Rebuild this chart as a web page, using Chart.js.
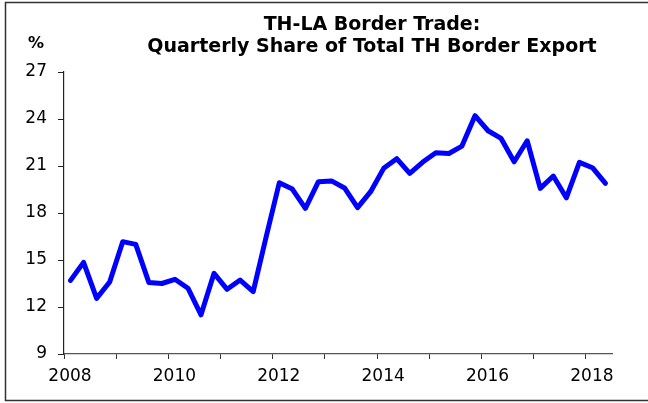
<!DOCTYPE html>
<html>
<head>
<meta charset="utf-8">
<script src="https://cdn.jsdelivr.net/npm/chart.js@4/dist/chart.umd.min.js"></script>
<style>
  body { margin: 0; background: #fff; overflow: hidden; }
  canvas { display: block; }
</style>
</head>
<body>
<canvas id="borderChart" width="648" height="403"></canvas>
<script>
// quarterly share of TH border export going to Laos (%)
const quarterLabels = [
  '2008Q1','2008Q2','2008Q3','2008Q4',
  '2009Q1','2009Q2','2009Q3','2009Q4',
  '2010Q1','2010Q2','2010Q3','2010Q4',
  '2011Q1','2011Q2','2011Q3','2011Q4',
  '2012Q1','2012Q2','2012Q3','2012Q4',
  '2013Q1','2013Q2','2013Q3','2013Q4',
  '2014Q1','2014Q2','2014Q3','2014Q4',
  '2015Q1','2015Q2','2015Q3','2015Q4',
  '2016Q1','2016Q2','2016Q3','2016Q4',
  '2017Q1','2017Q2','2017Q3','2017Q4',
  '2018Q1','2018Q2'
];
const shareValues = [
  13.7, 14.85, 12.55, 13.6,
  16.17, 16.0, 13.57, 13.5,
  13.77, 13.2, 11.5, 14.15,
  13.13, 13.72, 12.98, 16.5,
  19.93, 19.53, 18.3, 20.0,
  20.05, 19.6, 18.34, 19.36,
  20.85, 21.47, 20.53, 21.25,
  21.85, 21.8, 22.27, 24.21,
  23.25, 22.76, 21.27, 22.61,
  19.57, 20.36, 18.97, 21.23,
  20.89, 19.89
];
const yearTicks = [2008, 2010, 2012, 2014, 2016, 2018];
const titleLines = ['TH-LA Border Trade:', 'Quarterly Share of Total TH Border Export'];
const unitLabel = '%';

// put each quarter in the middle of its slot on the year axis
const points = quarterLabels.map((q, i) => {
  const year = parseInt(q.slice(0, 4));
  const qtr = parseInt(q.slice(5));
  return { x: year + (qtr - 0.5) / 4, y: shareValues[i] };
});

const decor = {
  id: 'decor',
  afterDraw(chart) {
    const ctx = chart.ctx;
    ctx.save();
    // frame: left, top and bottom edges only (right one is cut off)
    ctx.strokeStyle = '#333';
    ctx.lineWidth = 1.5;
    ctx.beginPath();
    ctx.moveTo(648, 2.5);
    ctx.lineTo(5.5, 2.5);
    ctx.lineTo(5.5, 400.5);
    ctx.lineTo(648, 400.5);
    ctx.stroke();
    // title
    ctx.fillStyle = '#000';
    ctx.textAlign = 'center';
    ctx.textBaseline = 'alphabetic';
    ctx.font = "bold 19px 'DejaVu Sans'";
    ctx.fillText(titleLines[0], 372, 30);
    ctx.fillText(titleLines[1], 372, 52);
    // unit
    ctx.textAlign = 'left';
    ctx.font = "bold 16px 'DejaVu Sans'";
    ctx.fillText(unitLabel, 28, 48);
    ctx.restore();
  }
};

new Chart(document.getElementById('borderChart').getContext('2d'), {
  type: 'line',
  data: {
    datasets: [{
      data: points,
      borderColor: '#0000ff',
      borderWidth: 5,
      borderJoinStyle: 'round',
      borderCapStyle: 'round',
      pointRadius: 0,
      tension: 0,
      fill: false
    }]
  },
  options: {
    responsive: false,
    animation: false,
    layout: { padding: { left: 0, top: 72, right: 36, bottom: 0 } },
    plugins: { legend: { display: false }, tooltip: { enabled: false }, title: { display: false } },
    scales: {
      x: {
        type: 'linear',
        min: 2008,
        max: 2018.5,
        afterFit: s => { s.height = 49; },
        border: { display: true, color: '#555', width: 1.2 },
        grid: { drawOnChartArea: false, drawTicks: true, tickLength: 5, color: '#333' },
        ticks: {
          stepSize: 1,
          includeBounds: false,
          autoSkip: false,
          maxRotation: 0,
          padding: 7,
          labelOffset: 6,
          color: '#000',
          font: { family: 'DejaVu Sans', size: 17 },
          callback: v => yearTicks.includes(v) ? String(v) : ''
        }
      },
      y: {
        min: 9,
        max: 27,
        afterFit: s => { s.width = 64; },
        border: { display: true, color: '#222', width: 1.2 },
        grid: { drawOnChartArea: false, drawTicks: true, tickLength: 6, color: '#222' },
        ticks: {
          stepSize: 3,
          padding: 11,
          color: '#000',
          font: { family: 'DejaVu Sans', size: 17 }
        }
      }
    }
  },
  plugins: [decor]
});
</script>
</body>
</html>
